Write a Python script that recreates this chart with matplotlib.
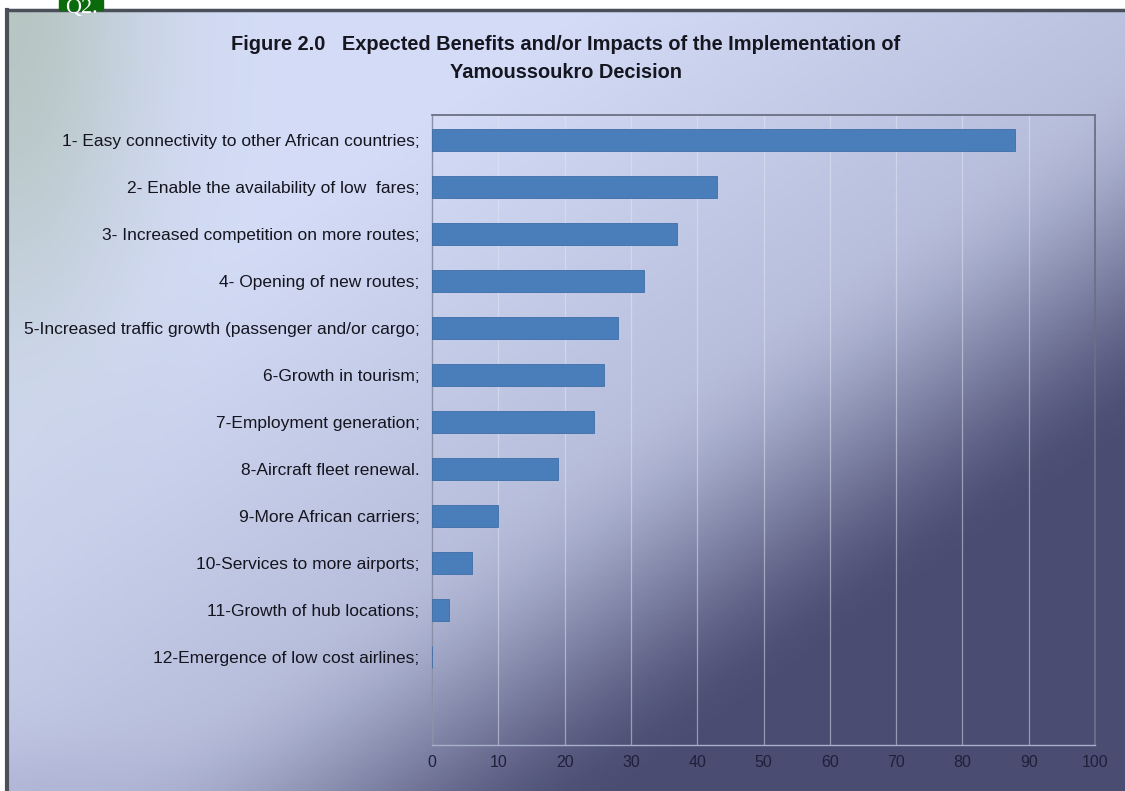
import numpy as np
import matplotlib.pyplot as plt
from matplotlib.patches import Rectangle

categories = [
    "1- Easy connectivity to other African countries;",
    "2- Enable the availability of low  fares;",
    "3- Increased competition on more routes;",
    "4- Opening of new routes;",
    "5-Increased traffic growth (passenger and/or cargo;",
    "6-Growth in tourism;",
    "7-Employment generation;",
    "8-Aircraft fleet renewal.",
    "9-More African carriers;",
    "10-Services to more airports;",
    "11-Growth of hub locations;",
    "12-Emergence of low cost airlines;",
]
values = [88, 43, 37, 32, 28, 26, 24.5, 19, 10, 6, 2.5, 0]
xticks = list(range(0, 101, 10))

title = ("Figure 2.0   Expected Benefits and/or Impacts of the Implementation of\n"
         "Yamoussoukro Decision")

FONT = ['Liberation Sans Narrow', 'Liberation Sans', 'DejaVu Sans']
W, H = 1125, 791

fig = plt.figure(figsize=(W / 100, H / 100), dpi=100)
fig.patch.set_facecolor('white')

# slide background: light lavender top-left, dark slate bottom-right
bg = fig.add_axes([7 / W, 0, 1 - 7 / W, (H - 10) / H])
bg.set_axis_off()
ny, nx = 240, 340
u = np.linspace(0, 1, nx)[None, :]
v = np.linspace(0, 1, ny)[:, None]
uv = u + v
t = np.clip((uv - 1.07) / 0.5, 0, 1)
d = 0.35 * np.clip((uv - 0.5) / 1.0, 0, 1) + 0.65 * t * t * (3 - 2 * t)
light = np.array([212, 220, 247]) / 255
dark = np.array([74, 76, 114]) / 255
img = light[None, None, :] * (1 - d[..., None]) + dark[None, None, :] * d[..., None]
g = np.exp(-((u / 0.12) ** 2) - ((v / 0.42) ** 2))[..., None]
green = np.array([178, 194, 186]) / 255
img = img * (1 - 0.85 * g) + green[None, None, :] * 0.85 * g
# slight shade along the bottom-left edge
s = np.exp(-((1 - v) / 0.06) ** 2 - (u / 0.2) ** 2)[..., None]
img = img * (1 - 0.25 * s) + np.array([150, 150, 190])[None, None, :] / 255 * 0.25 * s
bg.imshow(img, aspect='auto', extent=[0, 1, 0, 1], origin='upper')
bg.set_xlim(0, 1)
bg.set_ylim(0, 1)
bg.plot([0, 0], [0, 1], color='#4a4f5a', lw=3, transform=bg.transAxes, clip_on=False)
bg.plot([0, 1], [1, 1], color='#4a4f5a', lw=2.5, transform=bg.transAxes, clip_on=False)

# "Q2." tag at top left
fig.patches.append(Rectangle((59 / W, (H - 10) / H), 44 / W, 10 / H,
                             transform=fig.transFigure, color='#0b6a0b', zorder=5))
fig.text(81 / W, (H - 9) / H, "Q2.", color='white', fontsize=16, family='Liberation Serif',
         ha='center', va='center', zorder=6)

ax = fig.add_axes([432 / W, 1 - 745 / H, (1095 - 432) / W, (745 - 115) / H])
ax.patch.set_alpha(0)
y = np.arange(len(categories))
ax.barh(y, values, height=0.47, color='#4a7ebb', edgecolor='#3e6ea8', lw=0.6, zorder=3)
ax.set_xlim(0, 100)
ax.set_ylim(12.87, -0.53)
ax.set_xticks(xticks)
ax.set_xticklabels([str(t) for t in xticks], family=FONT, fontsize=11.5, color='#20203a')
ax.set_yticks(y)
ax.set_yticklabels(categories, family=FONT, fontsize=12.5, color='#15151f')
ax.tick_params(axis='both', length=0)
ax.tick_params(axis='y', pad=9)
ax.tick_params(axis='x', pad=7)
ax.xaxis.grid(True, color='#e2e6f4', lw=0.9, alpha=0.5, zorder=1)
ax.set_axisbelow(True)
for s_ in ['top', 'right']:
    ax.spines[s_].set_color('#6b7084')
    ax.spines[s_].set_linewidth(1.3)
ax.spines['left'].set_color('#8a90a8')
ax.spines['left'].set_linewidth(1.0)
ax.spines['bottom'].set_color('#a8b0cc')
ax.spines['bottom'].set_linewidth(1.0)

fig.text(566 / W, 1 - 59 / H, title, ha='center', va='center', family=FONT,
         fontsize=14.4, fontweight='bold', color='#161620', linespacing=1.6)

fig.savefig('out.png', dpi=100)
